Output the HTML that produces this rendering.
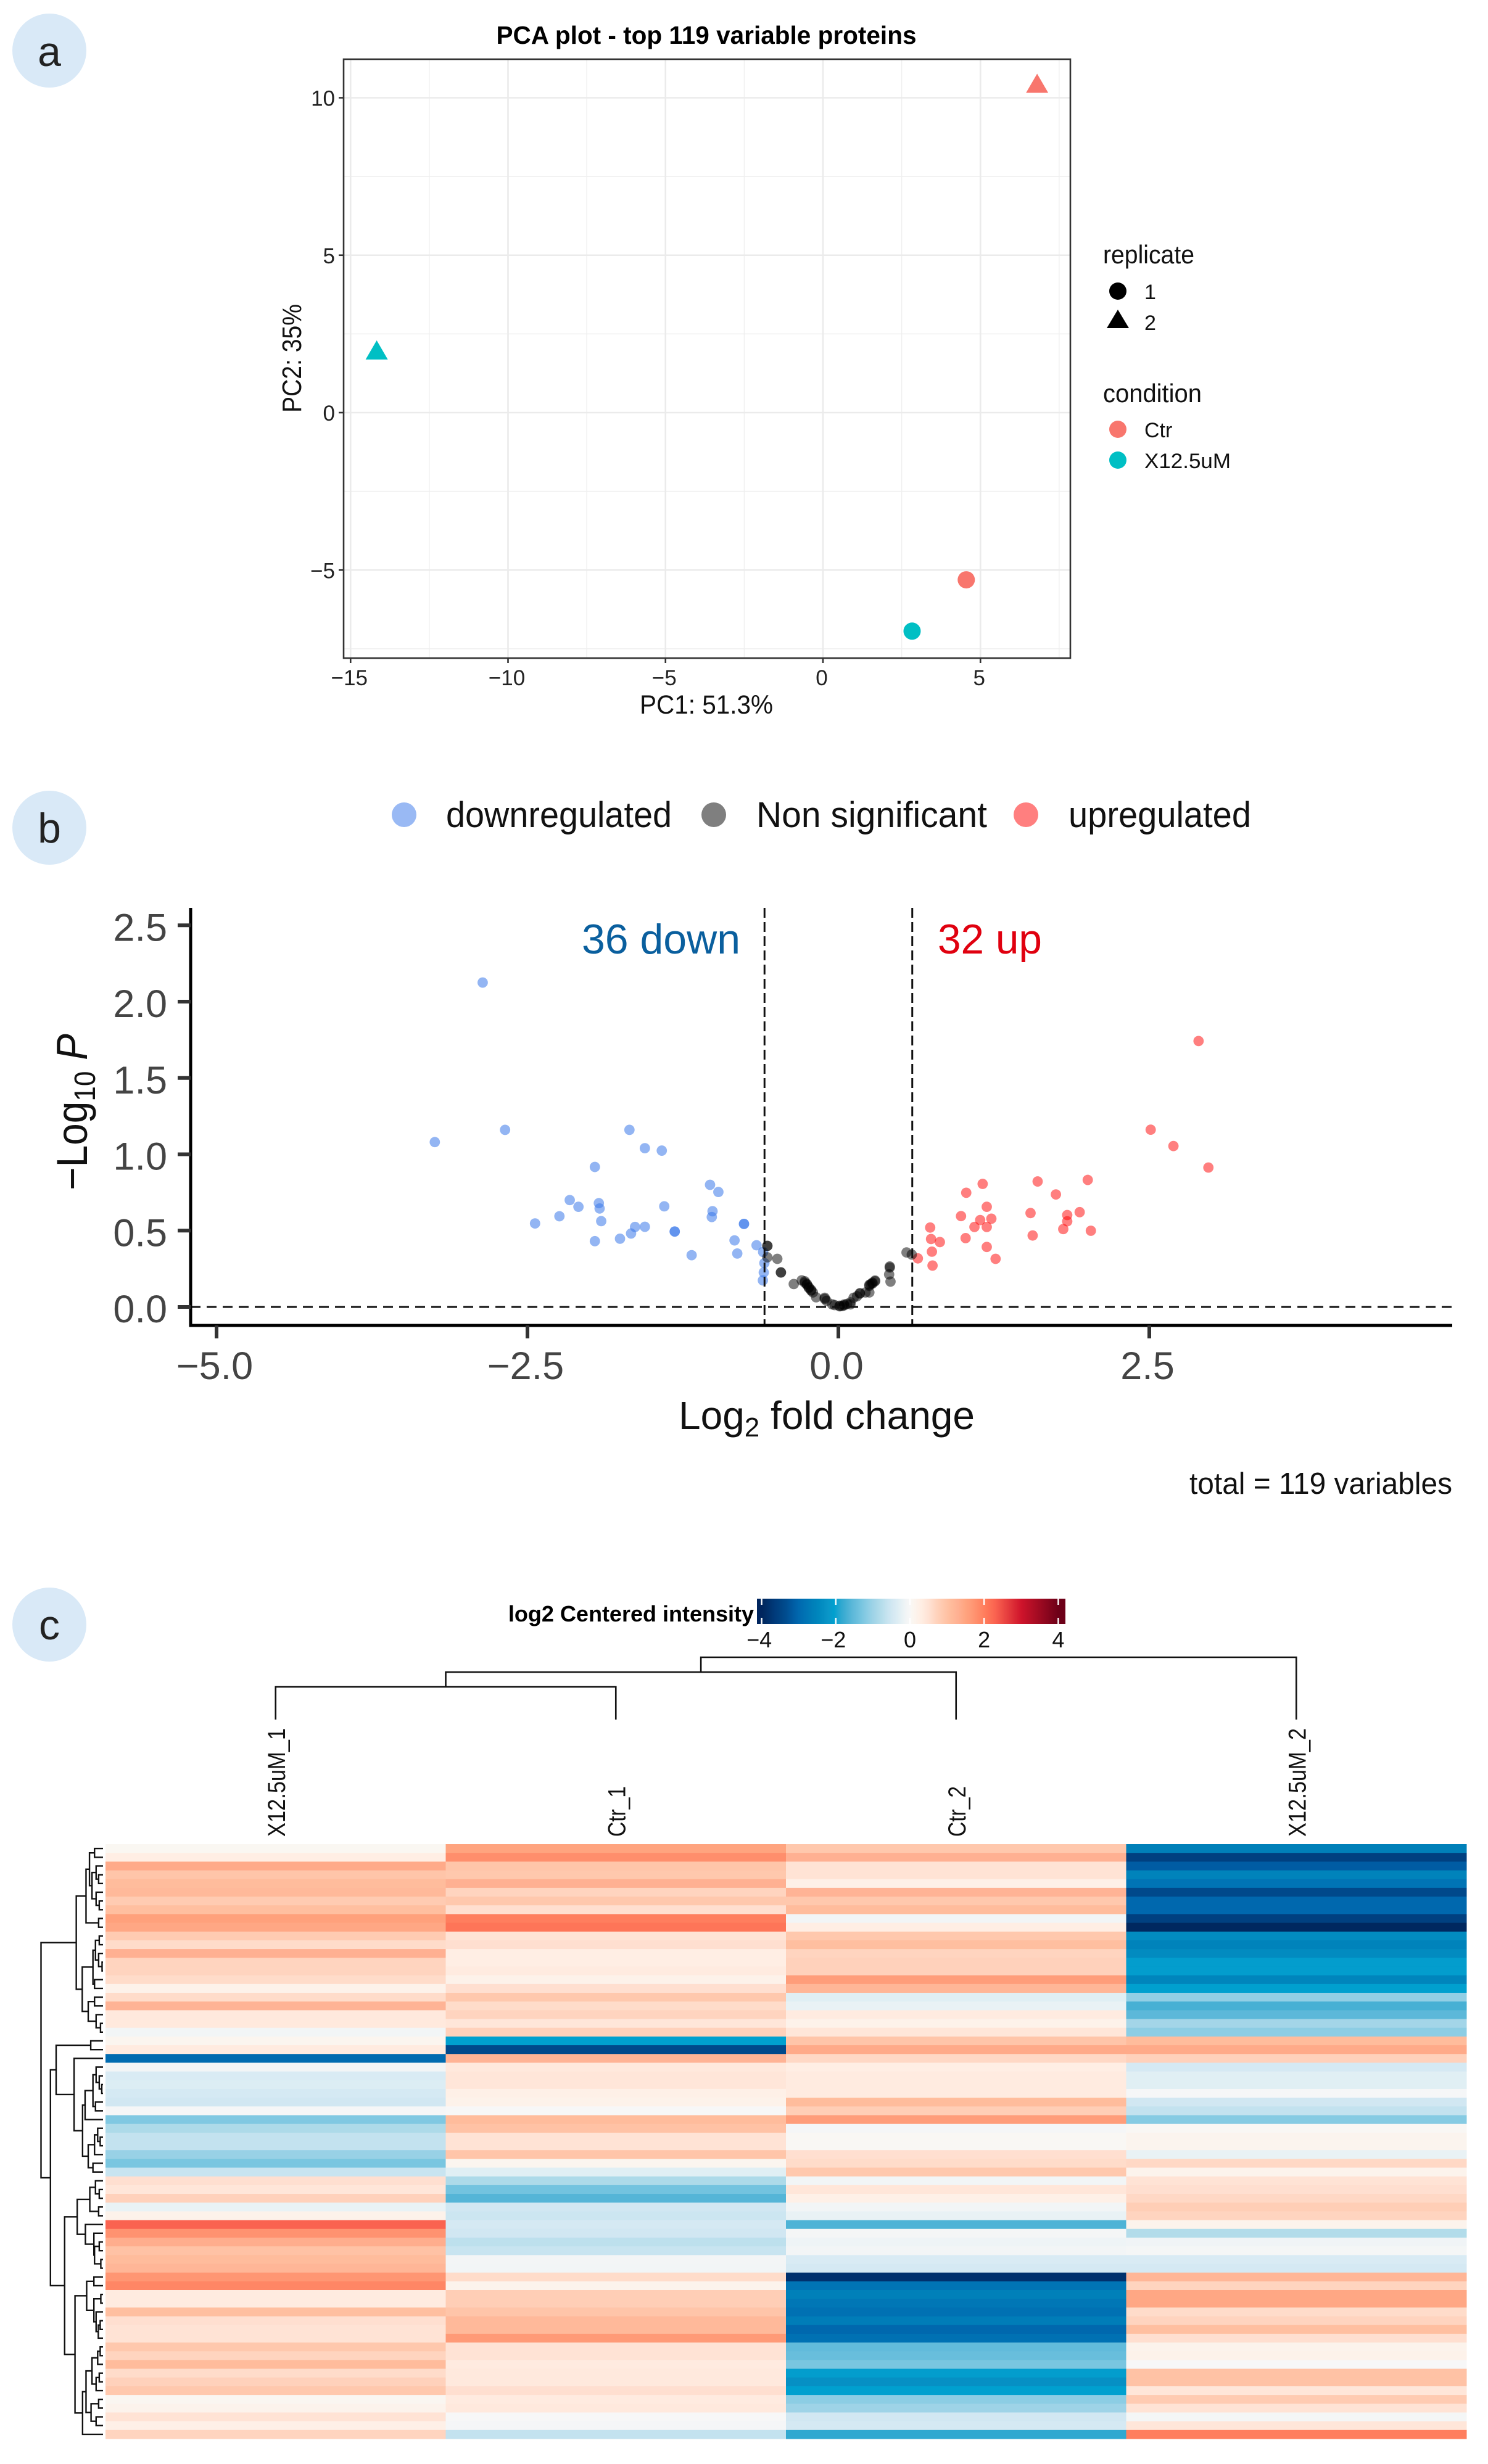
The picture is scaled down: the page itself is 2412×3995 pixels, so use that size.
<!DOCTYPE html>
<html lang="en">
<head>
<meta charset="utf-8">
<title>PCA, volcano plot and heatmap of top 119 variable proteins</title>
<style>
html,body{margin:0;padding:0;background:#fff;}
svg{display:block;}
text{font-family:"Liberation Sans",sans-serif;}
</style>
</head>
<body>
<svg id="fig" xmlns="http://www.w3.org/2000/svg" width="2412" height="3995" viewBox="0 0 2412 3995">
  <rect x="0" y="0" width="2412" height="3995" fill="#ffffff"/>

  <g>
    <circle cx="80" cy="82" r="60" fill="#d9e9f7"/>
    <text x="80" y="107" font-size="68" text-anchor="middle" fill="#222">a</text>
  </g>
  <g>
    <circle cx="80" cy="1342" r="60" fill="#d9e9f7"/>
    <text x="80" y="1366" font-size="68" text-anchor="middle" fill="#222">b</text>
  </g>
  <g>
    <circle cx="80" cy="2634" r="60" fill="#d9e9f7"/>
    <text x="80" y="2658" font-size="68" text-anchor="middle" fill="#222">c</text>
  </g>

  <!-- PCA -->
  <g id="pca">
    <text x="1145" y="71" font-size="41" font-weight="bold" text-anchor="middle" textLength="681" lengthAdjust="spacingAndGlyphs" fill="#000">PCA plot - top 119 variable proteins</text>
    <g id="pca-grid"></g>
    <g id="pca-points"></g>
    <rect x="557" y="96" width="1178" height="971" fill="none" stroke="#333" stroke-width="2.6"/>
    <g id="pca-axes"></g>
    <text x="1145" y="1157" font-size="43" text-anchor="middle" textLength="216" lengthAdjust="spacingAndGlyphs" fill="#111">PC1: 51.3%</text>
    <text transform="translate(488,581) rotate(-90)" font-size="44" text-anchor="middle" textLength="176" lengthAdjust="spacingAndGlyphs" fill="#111">PC2: 35%</text>
    <g>
      <text x="1788" y="427" font-size="42" textLength="148" lengthAdjust="spacingAndGlyphs" fill="#111">replicate</text>
      <circle cx="1812" cy="472" r="14" fill="#000"/>
      <text x="1855" y="485" font-size="34" fill="#111">1</text>
      <polygon points="1812,502 1830,532 1794,532" fill="#000"/>
      <text x="1855" y="535" font-size="34" fill="#111">2</text>
      <text x="1788" y="652" font-size="42" textLength="160" lengthAdjust="spacingAndGlyphs" fill="#111">condition</text>
      <circle cx="1812" cy="696" r="14" fill="#F8766D"/>
      <text x="1855" y="709" font-size="34" fill="#111">Ctr</text>
      <circle cx="1812" cy="746" r="14" fill="#00BFC4"/>
      <text x="1855" y="759" font-size="34" textLength="140" lengthAdjust="spacingAndGlyphs" fill="#111">X12.5uM</text>
    </g>
  </g>

  <!-- Volcano -->
  <g id="volcano">
    <g>
      <circle cx="655" cy="1321" r="20" fill="#3b78ea" fill-opacity="0.52"/>
      <text x="723" y="1341" font-size="58" textLength="366" lengthAdjust="spacingAndGlyphs" fill="#111">downregulated</text>
      <circle cx="1157" cy="1321" r="20" fill="#000" fill-opacity="0.5"/>
      <text x="1226" y="1341" font-size="58" textLength="374" lengthAdjust="spacingAndGlyphs" fill="#111">Non significant</text>
      <circle cx="1663" cy="1321" r="20" fill="#ff0000" fill-opacity="0.5"/>
      <text x="1732" y="1341" font-size="58" textLength="296" lengthAdjust="spacingAndGlyphs" fill="#111">upregulated</text>
    </g>
    <g id="volcano-points"></g>
    <g id="volcano-axes"></g>
    <text x="943" y="1546" font-size="68" textLength="257" lengthAdjust="spacingAndGlyphs" fill="#0a5f9e">36 down</text>
    <text x="1520" y="1546" font-size="68" textLength="169" lengthAdjust="spacingAndGlyphs" fill="#e0000f">32 up</text>
    <text x="1340" y="2317" font-size="64" text-anchor="middle" fill="#111">Log<tspan font-size="44" dy="12">2</tspan><tspan dy="-12"> fold change</tspan></text>
    <text transform="translate(141,1803) rotate(-90) scale(1,1.1)" font-size="64" text-anchor="middle" fill="#111">&#8722;Log<tspan font-size="44" dy="12">10</tspan><tspan dy="-12" font-style="italic"> P</tspan></text>
    <text x="2354" y="2422" font-size="49" text-anchor="end" textLength="426" lengthAdjust="spacingAndGlyphs" fill="#111">total = 119 variables</text>
  </g>

  <!-- Heatmap -->
  <g id="heat">
    <text x="1222" y="2629" font-size="36" font-weight="bold" text-anchor="end" fill="#000">log2 Centered intensity</text>
    <defs id="heat-defs"></defs>
    <g id="colorbar"></g>
    <g id="col-dendro"></g>
    <g id="col-labels"></g>
    <g id="row-dendro"></g>
    <g id="heat-cells"></g>
  </g>
</svg>

<script>
/* ---------- PCA data ---------- */
const pcaXTicks = [-15, -10, -5, 0, 5];
const pcaYTicks = [-5, 0, 5, 10];
const pcaMinorXTicks = [-12.5, -7.5, -2.5, 2.5, 7.5];
const pcaMinorYTicks = [-7.5, -2.5, 2.5, 7.5];
const pcaCondition = ['Ctr', 'X12.5uM', 'Ctr', 'X12.5uM'];
const pcaReplicate = [2, 2, 1, 1];
const pc1Values = [6.8, -14.17, 4.55, 2.83];
const pc2Values = [10.45, 1.98, -5.31, -6.94];

/* ---------- Volcano data ---------- */
const volcanoXTicks = [-5, -2.5, 0, 2.5];
const volcanoYTicks = [0, 0.5, 1, 1.5, 2, 2.5];
const foldCutoffs = [-0.594, 0.594];
const downFold = [-2.86,-3.245,-2.68,-1.68,-1.556,-1.42,-1.958,-1.032,-0.965,-2.16,-2.09,-1.926,-1.92,-1.40,-1.012,-1.018,-2.243,-2.439,-1.907,-1.958,-1.756,-1.667,-1.635,-1.556,-1.316,-1.316,-0.759,-0.759,-0.835,-0.813,-1.18,-0.658,-0.605,-0.595,-0.60,-0.607];
const downLogP = [2.125,1.08,1.16,1.16,1.04,1.024,0.917,0.80,0.753,0.70,0.656,0.68,0.645,0.659,0.627,0.589,0.594,0.547,0.562,0.431,0.447,0.481,0.524,0.525,0.494,0.494,0.544,0.544,0.436,0.35,0.339,0.404,0.36,0.287,0.226,0.174];
const nsFold = [-0.571,-0.571,-0.571,-0.491,-0.462,-0.462,-0.359,-0.295,-0.27,-0.27,-0.253,-0.253,-0.238,-0.238,-0.219,-0.219,-0.205,-0.179,-0.11,-0.11,-0.095,-0.05,-0.03,0.01,0.01,0.03,0.046,0.046,0.07,0.097,0.097,0.122,0.15,0.173,0.173,0.218,0.249,0.249,0.249,0.26,0.274,0.274,0.295,0.295,0.413,0.413,0.408,0.419,0.548,0.59];
const nsLogP = [0.40,0.40,0.325,0.315,0.226,0.226,0.15,0.174,0.159,0.168,0.145,0.15,0.125,0.13,0.107,0.112,0.095,0.063,0.053,0.06,0.04,0.017,0.012,0.004,0.008,0.006,0.01,0.016,0.02,0.017,0.03,0.06,0.07,0.088,0.09,0.095,0.095,0.138,0.145,0.15,0.159,0.153,0.173,0.168,0.258,0.265,0.213,0.166,0.357,0.343];
const upFold = [2.896,2.511,2.694,2.975,2.005,1.602,1.16,1.028,1.749,1.193,1.545,0.986,1.94,1.84,1.84,1.23,1.14,1.094,1.193,0.738,0.745,0.816,1.023,1.562,1.808,2.03,1.193,1.264,0.752,0.639,0.757];
const upLogP = [1.742,1.161,1.054,0.913,0.832,0.822,0.806,0.748,0.737,0.656,0.615,0.595,0.621,0.602,0.561,0.578,0.569,0.524,0.524,0.52,0.445,0.425,0.451,0.468,0.51,0.499,0.393,0.315,0.362,0.318,0.271];

/* ---------- Heatmap data (log2 centered intensity, top to bottom) ---------- */
const sampleNames = ['X12.5uM_1', 'Ctr_1', 'Ctr_2', 'X12.5uM_2'];
const colorbarTicks = [-4, -2, 0, 2, 4];
const sampleX125uM1 = [0.05,0.3,1.4,0.95,1.1,1.15,0.85,1.05,1.55,1.45,0.85,0.6,1.3,0.7,0.7,0.6,0.2,0.6,1.25,0.4,0.4,-0.1,0.1,0.35,-2.95,-0.1,-0.4,-0.35,-0.45,-0.5,-0.05,-1.25,-0.85,-0.65,-0.65,-1.05,-1.3,-0.6,0.55,0.45,0.75,-0.2,0.2,2.3,1.75,1.35,1.0,1.1,1.2,1.7,1.9,0.35,0.35,1.05,0.55,0.5,0.5,0.9,0.7,1.1,0.6,0.75,0.9,0.07,0.15,0.5,0.25,0.7];
const sampleCtr1 = [1.5,1.8,0.95,0.9,1.3,0.7,0.9,0.55,2.0,2.1,0.5,0.55,0.3,0.3,0.35,0.2,0.55,0.9,0.6,0.7,0.45,0.75,-2.05,-3.4,1.25,0.4,0.45,0.45,0.25,0.2,0,1.1,1.0,0.5,0.5,0.95,0.1,-0.3,-0.85,-1.35,-1.6,-0.5,-0.55,-0.45,-0.5,-0.7,-0.6,-0.08,-0.1,0.6,0.15,0.8,0.8,0.95,1.15,1.15,1.65,0.5,0.5,0.35,0.4,0.4,0.55,0.35,0.4,0,-0.05,-0.65];
const sampleCtr2 = [0.9,1.3,0.5,0.5,0.25,1.25,0.9,1.1,-0.1,0.3,0.9,1.05,0.7,0.75,0.75,1.6,1.2,-0.3,-0.2,0.35,0.2,0.45,0.95,1.4,0.65,0.3,0.35,0.35,0.35,1.1,0.8,1.6,-0.05,0.03,0.03,0.55,0.6,0.9,-0.1,0.45,0.25,-0.1,-0.2,-1.65,-0.07,-0.15,-0.1,-0.4,-0.45,-3.8,-2.8,-2.6,-2.75,-2.85,-2.65,-3.0,-2.85,-1.5,-1.45,-1.3,-2.1,-2.3,-2.05,-1.15,-1.0,-0.5,-0.45,-1.85];
const sampleX125uM2 = [-2.6,-3.55,-3.15,-2.55,-2.8,-3.4,-3.0,-3.0,-3.55,-3.95,-2.4,-2.55,-2.4,-2.1,-2.1,-2.5,-2.05,-1.1,-1.7,-1.55,-0.95,-1.15,1.1,1.4,0.75,-0.45,-0.3,-0.3,-0.05,-0.5,-0.65,-1.2,0.03,0.12,0.12,-0.2,0.65,0.15,0.5,0.55,0.65,0.8,0.7,0.15,-0.8,-0.12,-0.07,-0.4,-0.45,1.2,0.7,1.45,1.45,0.6,0.7,1.05,0.55,0.15,0.2,0,1.0,1.0,0.45,0.85,0.5,-0.07,0.45,2.0];
const heatColumns = [sampleX125uM1, sampleCtr1, sampleCtr2, sampleX125uM2];
const rampValues = [-4,-3.95,-3.65,-3.55,-3.35,-3.15,-3,-2.8,-2.6,-2.45,-2.2,-2.05,-1.85,-1.7,-1.55,-1.35,-1.15,-1,-0.8,-0.6,-0.45,-0.35,-0.2,-0.1,0,0.05,0.3,0.5,0.7,0.9,1.1,1.3,1.5,1.65,1.85,2.05,2.3,3,4];
const rampColors = ['#00255e','#00285f','#003a7a','#004080','#004c8e','#005ca3','#0068ae','#0074b5','#0080b9','#0088be','#0a96c8','#00a0cf','#30a8d0','#47b0d4','#5cb8d9','#73c3df','#8ccde4','#9ed3e7','#b2dcea','#c8e4f0','#d5e9f3','#dcedf4','#e9f2f5','#f2f5f6','#f7f7f7','#faf7f2','#ffeee4','#ffe3d5','#ffd4bf','#ffc8ad','#ffbc9c','#ffb092','#ffa47f','#ff9a77','#ff8a68','#ff7a5a','#fa6350','#cf142b','#6d0018'];

/* Dendrogram merges: [merge height, childA, childB]; 0 is a leaf */
const rowTreeA = [85,
  [54, [43, [27,0,0], [35, [22,0,[14,0,0]], [22,0,[12,0,0]]]], [14,0,0]],
  [66, [32, [24,[12,0,0],[14,0,[3,0,0]]], [27,0,0]], [47,[27,0,0],[22,0,[8,0,0]]]]];
const rowTreeC = [149, [39,0,0],
  [92, 0, [65,
    [57, [32, [22,0,[12,0,[4,0,0]]], [24,0,0]], 0],
    [47, [27,[17,0,[9,0,0]],0], [32,0,0]]]]];
const rowTreeD = [122,
  [82, [42,[24,0,[12,0,0]],[14,0,0]], [56,0,[29,0,[27,[12,0,0],[7,0,0]]]]],
  [89, [52,[29,0,0],[29,[7,0,0],[22,0,[15,[9,0,0],0]]]],
       [65, [54, [35,[17,[9,0,0],0],[22,[12,0,0],0]], [38,[14,0,0],[22,0,0]]], 0]]];
const rowTree = [197, rowTreeA, [167, rowTreeC, rowTreeD]];
const colTree = [101, [77, [53,0,0], 0], 0];

/* ---------- helpers ---------- */
const NS = 'http://www.w3.org/2000/svg';
function make(parent, tag, attrs) {
  const el = document.createElementNS(NS, tag);
  for (const k in attrs) el.setAttribute(k, attrs[k]);
  document.getElementById(parent).appendChild(el);
  return el;
}
function fmtMinus(v, digits) {
  const s = Math.abs(v).toFixed(digits);
  return v < 0 ? '\u2212' + s : s;
}

/* ---------- PCA ---------- */
const pcaX = v => 1334 + v * 51.05;
const pcaY = v => 669 - v * 51.05;
const PCA_L = 557, PCA_R = 1735, PCA_T = 96, PCA_B = 1067;
pcaMinorXTicks.forEach(v => {
  const el = make('pca-grid', 'line', {x1: pcaX(v), x2: pcaX(v), y1: PCA_T, y2: PCA_B, stroke: '#efefef', 'stroke-width': 1.4});
  
  
});
pcaMinorYTicks.forEach(v => {
  const el = make('pca-grid', 'line', {x1: PCA_L, x2: PCA_R, y1: pcaY(v), y2: pcaY(v), stroke: '#efefef', 'stroke-width': 1.4});
  
  
});
pcaXTicks.forEach(v => {
  const g = make('pca-grid', 'line', {x1: pcaX(v), x2: pcaX(v), y1: PCA_T, y2: PCA_B, stroke: '#ebebeb', 'stroke-width': 2.6});
  
  
  const t = make('pca-axes', 'line', {x1: pcaX(v), x2: pcaX(v), y1: PCA_B, y2: PCA_B + 8, stroke: '#333', 'stroke-width': 2.6});
  
  
  const l = make('pca-axes', 'text', {x: pcaX(v) - 2, y: 1111, 'font-size': 35, 'text-anchor': 'middle', fill: '#222'});
  l.textContent = fmtMinus(v, 0);
  
  
});
pcaYTicks.forEach(v => {
  const g = make('pca-grid', 'line', {x1: PCA_L, x2: PCA_R, y1: pcaY(v), y2: pcaY(v), stroke: '#ebebeb', 'stroke-width': 2.6});
  
  
  const t = make('pca-axes', 'line', {x1: PCA_L - 8, x2: PCA_L, y1: pcaY(v), y2: pcaY(v), stroke: '#333', 'stroke-width': 2.6});
  
  
  const l = make('pca-axes', 'text', {x: 543, y: pcaY(v) + 13, 'font-size': 35, 'text-anchor': 'end', fill: '#222'});
  l.textContent = fmtMinus(v, 0);
  
  
});
pc1Values.forEach((v, i) => {
  const cx = pcaX(v), cy = pcaY(pc2Values[i]);
  const color = pcaCondition[i] === 'Ctr' ? '#F8766D' : '#00BFC4';
  let el;
  if (pcaReplicate[i] === 2) {
    el = make('pca-points', 'polygon', {points: `${cx},${cy - 16} ${cx + 18},${cy + 15} ${cx - 18},${cy + 15}`, fill: color});
  } else {
    el = make('pca-points', 'circle', {cx: cx, cy: cy, r: 14, fill: color});
  }
  
  
});

/* ---------- Volcano ---------- */
const volX = v => 1359 + v * 201.6;
const volY = v => 2119 - v * 247.5;
const V_L = 309, V_R = 2354, V_T = 1472, V_B = 2149;
function drawVolcanoSeries(xs, ys, color, opacity, name) {
  xs.forEach((v, i) => {
    const el = make('volcano-points', 'circle', {cx: volX(v), cy: volY(ys[i]), r: 8.4, fill: color, 'fill-opacity': opacity});
    
    
  });
}
drawVolcanoSeries(downFold, downLogP, '#3b78ea', 0.55, 'volcano-point-down');
drawVolcanoSeries(upFold, upLogP, '#ff0000', 0.5, 'volcano-point-up');
drawVolcanoSeries(nsFold, nsLogP, '#000000', 0.5, 'volcano-point-non-significant');

const hRef = make('volcano-axes', 'line', {x1: V_L, x2: V_R, y1: volY(0), y2: volY(0), stroke: '#111', 'stroke-width': 3, 'stroke-dasharray': '16 10'});


foldCutoffs.forEach(v => {
  const el = make('volcano-axes', 'line', {x1: volX(v), x2: volX(v), y1: V_T, y2: V_B, stroke: '#111', 'stroke-width': 3, 'stroke-dasharray': '16 7'});
  
  
});
const yAxisLine = make('volcano-axes', 'line', {x1: V_L, x2: V_L, y1: V_T, y2: V_B + 2.5, stroke: '#000', 'stroke-width': 5});


const xAxisLine = make('volcano-axes', 'line', {x1: V_L, x2: V_R, y1: V_B, y2: V_B, stroke: '#000', 'stroke-width': 5});


volcanoXTicks.forEach(v => {
  const t = make('volcano-axes', 'line', {x1: volX(v), x2: volX(v), y1: V_B, y2: V_B + 21, stroke: '#333', 'stroke-width': 6});
  
  
  const l = make('volcano-axes', 'text', {x: volX(v) - 3, y: 2236, 'font-size': 63, 'text-anchor': 'middle', fill: '#444'});
  l.textContent = fmtMinus(v, 1);
  
  
});
volcanoYTicks.forEach(v => {
  const t = make('volcano-axes', 'line', {x1: V_L - 21, x2: V_L, y1: volY(v), y2: volY(v), stroke: '#333', 'stroke-width': 6});
  
  
  const l = make('volcano-axes', 'text', {x: 271, y: volY(v) + 25, 'font-size': 63, 'text-anchor': 'end', fill: '#444'});
  l.textContent = v.toFixed(1);
  
  
});

/* ---------- Heatmap ---------- */
function hexToRgb(h) {
  return [parseInt(h.slice(1, 3), 16), parseInt(h.slice(3, 5), 16), parseInt(h.slice(5, 7), 16)];
}
function heatColor(v) {
  const n = rampValues.length;
  if (v <= rampValues[0]) return rampColors[0];
  if (v >= rampValues[n - 1]) return rampColors[n - 1];
  for (let i = 1; i < n; i++) {
    if (v <= rampValues[i]) {
      const f = (v - rampValues[i - 1]) / (rampValues[i] - rampValues[i - 1]);
      const a = hexToRgb(rampColors[i - 1]), b = hexToRgb(rampColors[i]);
      return `rgb(${a.map((c, k) => Math.round(c + (b[k] - c) * f)).join(',')})`;
    }
  }
  return rampColors[n - 1];
}
const HEAT_L = 171, HEAT_T = 2990, HEAT_H = 964, COL_W = 551.5;
const ROW_H = HEAT_H / heatColumns[0].length;
const heatX = c => HEAT_L + c * COL_W;
const heatY = r => HEAT_T + r * ROW_H;

heatColumns.forEach((col, c) => {
  col.forEach((v, r) => {
    const el = make('heat-cells', 'rect', {x: heatX(c), y: heatY(r), width: COL_W + 0.5, height: ROW_H + 0.5, fill: heatColor(v)});
    
    
  });
});

/* colorbar */
const barX = v => 1475 + v * 60.1;
const BAR_L = 1227, BAR_R = 1727, BAR_T = 2592, BAR_B = 2633;
const grad = make('heat-defs', 'linearGradient', {id: 'colorbar-gradient', x1: 0, x2: 1, y1: 0, y2: 0});


rampValues.forEach((v, i) => {
  const st = document.createElementNS(NS, 'stop');
  st.setAttribute('offset', (barX(v) - BAR_L) / (BAR_R - BAR_L));
  st.setAttribute('stop-color', rampColors[i]);
  
  
  grad.appendChild(st);
});
const bar = make('colorbar', 'rect', {x: BAR_L, y: BAR_T, width: BAR_R - BAR_L, height: BAR_B - BAR_T, fill: 'url(#colorbar-gradient)'});


colorbarTicks.forEach(v => {
  const a = make('colorbar', 'rect', {x: barX(v) - 1.2, y: BAR_T, width: 2.4, height: 10, fill: '#fff'});
  
  
  const b = make('colorbar', 'rect', {x: barX(v) - 1.2, y: BAR_B - 10, width: 2.4, height: 10, fill: '#fff'});
  
  
  const l = make('colorbar', 'text', {x: barX(v) - (v < 0 ? 4 : 0), y: 2671, 'font-size': 36, 'text-anchor': 'middle', fill: '#111'});
  l.textContent = fmtMinus(v, 0);
  
  
});

/* column dendrogram */
const COL_BASE_Y = 2788;
const colTreeY = h => COL_BASE_Y - h;
let colLeaf = 0;
function drawColNode(node) {
  if (node === 0) {
    const leaf = {x: heatX(colLeaf) + COL_W / 2, y: COL_BASE_Y};
    colLeaf++;
    return leaf;
  }
  const a = drawColNode(node[1]);
  const b = drawColNode(node[2]);
  const y = colTreeY(node[0]);
  const el = make('col-dendro', 'path', {d: `M${a.x} ${a.y}V${y}H${b.x}V${b.y}`, fill: 'none', stroke: '#111', 'stroke-width': 2.6});
  
  
  return {x: (a.x + b.x) / 2, y: y};
}
drawColNode(colTree);

/* column labels */
sampleNames.forEach((name, c) => {
  const x = heatX(c) + COL_W / 2 + 15;
  const len = name.length > 6 ? 176 : 82;
  const el = make('col-labels', 'text', {transform: `translate(${x},2978) rotate(-90)`, 'font-size': 40, textLength: len, lengthAdjust: 'spacingAndGlyphs', fill: '#111'});
  el.textContent = name;
  
  
});

/* row dendrogram */
const rowTreeX = h => 167 - h / 1.96;
let rowLeaf = 0;
function drawRowNode(node) {
  if (node === 0) {
    const leaf = {x: rowTreeX(0), y: heatY(rowLeaf) + ROW_H / 2};
    rowLeaf++;
    return leaf;
  }
  const a = drawRowNode(node[1]);
  const b = drawRowNode(node[2]);
  const x = rowTreeX(node[0]);
  const el = make('row-dendro', 'path', {d: `M${a.x} ${a.y}H${x}V${b.y}H${b.x}`, fill: 'none', stroke: '#111', 'stroke-width': 2.4});
  
  
  return {x: x, y: (a.y + b.y) / 2};
}
drawRowNode(rowTree);
</script>
</body>
</html>
